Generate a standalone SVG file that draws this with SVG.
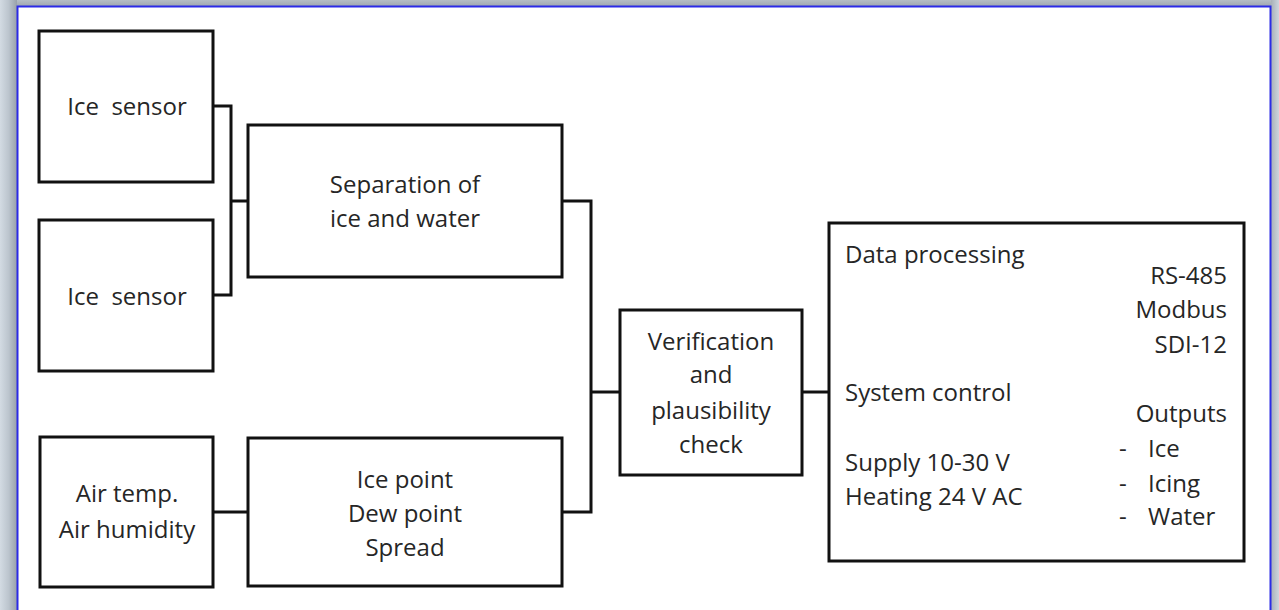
<svg xmlns="http://www.w3.org/2000/svg" width="1279" height="610" viewBox="0 0 1279 610">
<defs>
<linearGradient id="gl" x1="0" y1="0" x2="1" y2="0">
<stop offset="0" stop-color="#d3dbe3"/><stop offset="0.5" stop-color="#bcc5ce"/><stop offset="1" stop-color="#98a1aa"/>
</linearGradient>
<linearGradient id="gr" x1="0" y1="0" x2="1" y2="0">
<stop offset="0" stop-color="#a8b0b8"/><stop offset="1" stop-color="#cdd5dd"/>
</linearGradient>
<linearGradient id="gt" x1="0" y1="0" x2="0" y2="1">
<stop offset="0" stop-color="#b5bdc5"/><stop offset="1" stop-color="#a0a8b0"/>
</linearGradient>
</defs>
<style>
.box{fill:#fff;stroke:#111;stroke-width:3}
.wire{fill:none;stroke:#111;stroke-width:3}
text{font-family:"Open Sans","Noto Sans",sans-serif;font-size:24px;fill:#262626}
.c{text-anchor:middle}
.r{text-anchor:end}
</style>
<rect x="0" y="0" width="1279" height="610" fill="#fff"/>
<rect x="0" y="0" width="1279" height="6" fill="url(#gt)"/>
<rect x="0" y="0" width="17" height="610" fill="url(#gl)"/>
<rect x="1271" y="0" width="8" height="610" fill="url(#gr)"/>
<path d="M17.5 610 V6.5 H1270.5 V610" fill="none" stroke="#2b2be6" stroke-width="2"/>

<g id="connectors">
<path class="wire" d="M213 106 H231 V295 H213"/>
<path class="wire" d="M231 201 H248"/>
<path class="wire" d="M213 512 H248"/>
<path class="wire" d="M562 201 H591 V512 H562"/>
<path class="wire" d="M591 392 H620"/>
<path class="wire" d="M802 392 H829"/>
</g>

<g id="ice-sensor-1">
<rect class="box" x="39" y="31" width="174" height="151"/>
<text class="c" x="127" y="115" xml:space="preserve">Ice  sensor</text>
</g>
<g id="ice-sensor-2">
<rect class="box" x="39" y="220" width="174" height="151"/>
<text class="c" x="127" y="305" xml:space="preserve">Ice  sensor</text>
</g>
<g id="air-temp">
<rect class="box" x="40" y="437" width="173" height="150"/>
<text class="c" x="127" y="502">Air temp.</text>
<text class="c" x="127" y="538">Air humidity</text>
</g>
<g id="separation">
<rect class="box" x="248" y="125" width="314" height="152"/>
<text class="c" x="405" y="193">Separation of</text>
<text class="c" x="405" y="227">ice and water</text>
</g>
<g id="ice-point">
<rect class="box" x="248" y="438" width="314" height="148"/>
<text class="c" x="405" y="488">Ice point</text>
<text class="c" x="405" y="522">Dew point</text>
<text class="c" x="405" y="556">Spread</text>
</g>
<g id="verification">
<rect class="box" x="620" y="310" width="182" height="165"/>
<text class="c" x="711" y="350">Verification</text>
<text class="c" x="711" y="383">and</text>
<text class="c" x="711" y="419">plausibility</text>
<text class="c" x="711" y="453">check</text>
</g>
<g id="data-processing">
<rect class="box" x="829" y="223" width="415" height="338"/>
<text x="845" y="263">Data processing</text>
<text class="r" x="1227" y="284">RS-485</text>
<text class="r" x="1227" y="318">Modbus</text>
<text class="r" x="1227" y="353">SDI-12</text>
<text x="845" y="401">System control</text>
<text class="r" x="1227" y="422">Outputs</text>
<text x="1119" y="457">-</text><text x="1148" y="457">Ice</text>
<text x="1119" y="492">-</text><text x="1148" y="492">Icing</text>
<text x="1119" y="525">-</text><text x="1148" y="525">Water</text>
<text x="845" y="471">Supply 10-30 V</text>
<text x="845" y="505">Heating 24 V AC</text>
</g>
</svg>
